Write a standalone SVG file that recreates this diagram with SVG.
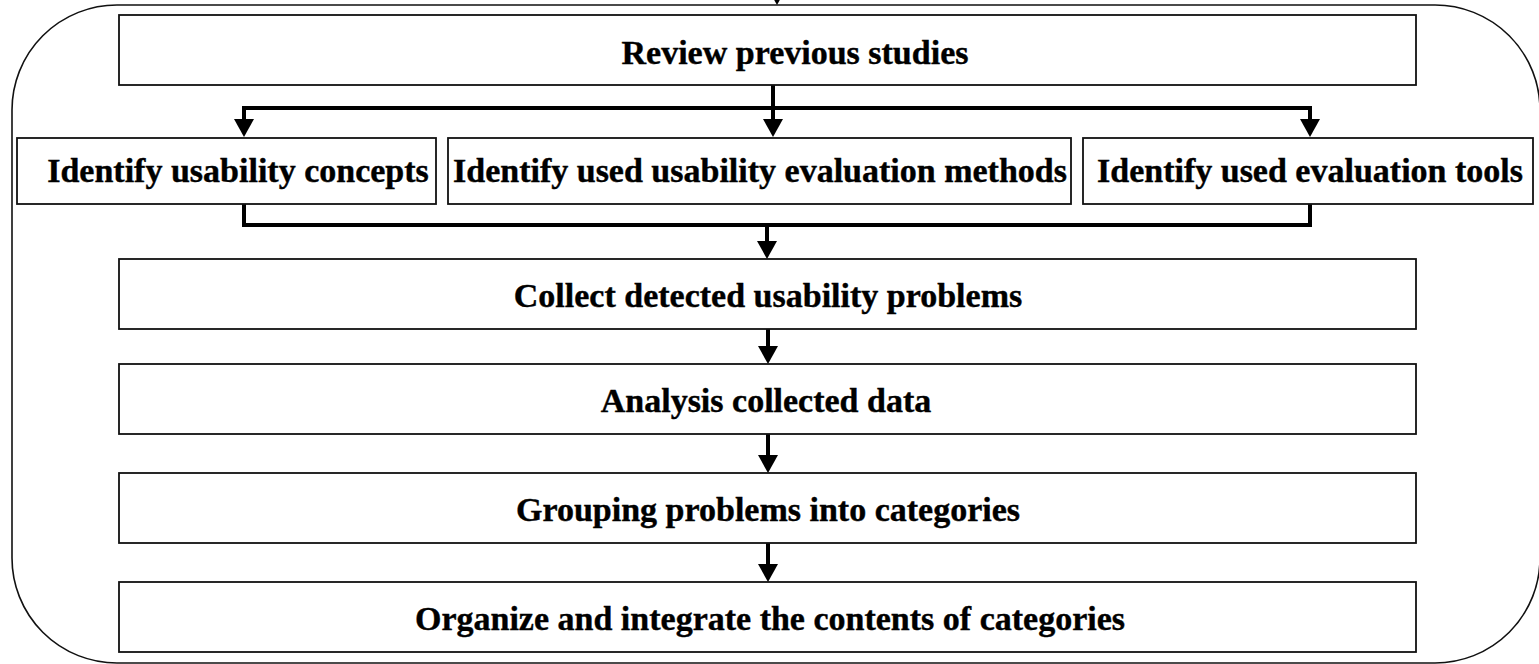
<svg xmlns="http://www.w3.org/2000/svg" width="1539" height="664" viewBox="0 0 1539 664">
<style>
.box{fill:#fff;stroke:#111;stroke-width:1.8}
.lbl{font-family:"Liberation Serif","Times New Roman",serif;font-weight:bold;font-size:34px;fill:#000;stroke:#000;stroke-width:0.4;text-anchor:middle}
.conn{fill:none;stroke:#000;stroke-width:4}
.head{fill:#000}
</style>
<rect width="1539" height="664" fill="#fff"/>
<g id="frame"><rect x="12" y="5" width="1528" height="658" rx="105" ry="105" fill="none" stroke="#111" stroke-width="1.6"/></g>
<g id="connectors">
<polygon class="head" points="767,-13 787,-13 777,5"/>
<path class="conn" d="M773 85 V121 M244 121 V108 H1310 V121"/>
<polygon class="head" points="234,119 254,119 244,137"/>
<polygon class="head" points="763,119 783,119 773,137"/>
<polygon class="head" points="1300,119 1320,119 1310,137"/>
<path class="conn" d="M244 204 V225 H1310 V204 M767 225 V243"/>
<polygon class="head" points="757,241 777,241 767,259"/>
<path class="conn" d="M768 329 V348"/>
<polygon class="head" points="758,346 778,346 768,364"/>
<path class="conn" d="M768 434 V457"/>
<polygon class="head" points="758,455 778,455 768,473"/>
<path class="conn" d="M768 543 V566"/>
<polygon class="head" points="758,564 778,564 768,582"/>
</g>
<g id="review"><rect class="box" x="119" y="15" width="1297" height="70"/><text class="lbl" x="795" y="64">Review previous studies</text></g>
<g id="concepts"><rect class="box" x="17" y="138" width="419" height="66"/><text class="lbl" x="238" y="182">Identify usability concepts</text></g>
<g id="methods"><rect class="box" x="448" y="138" width="623" height="66"/><text class="lbl" x="760" y="182">Identify used usability evaluation methods</text></g>
<g id="tools"><rect class="box" x="1083" y="138" width="450" height="66"/><text class="lbl" x="1310" y="182">Identify used evaluation tools</text></g>
<g id="collect"><rect class="box" x="119" y="259" width="1297" height="70"/><text class="lbl" x="768" y="307">Collect detected usability problems</text></g>
<g id="analysis"><rect class="box" x="119" y="364" width="1297" height="70"/><text class="lbl" x="766" y="412">Analysis collected data</text></g>
<g id="grouping"><rect class="box" x="119" y="473" width="1297" height="70"/><text class="lbl" x="768" y="521">Grouping problems into categories</text></g>
<g id="organize"><rect class="box" x="119" y="582" width="1297" height="70"/><text class="lbl" x="770" y="630">Organize and integrate the contents of categories</text></g>
</svg>
